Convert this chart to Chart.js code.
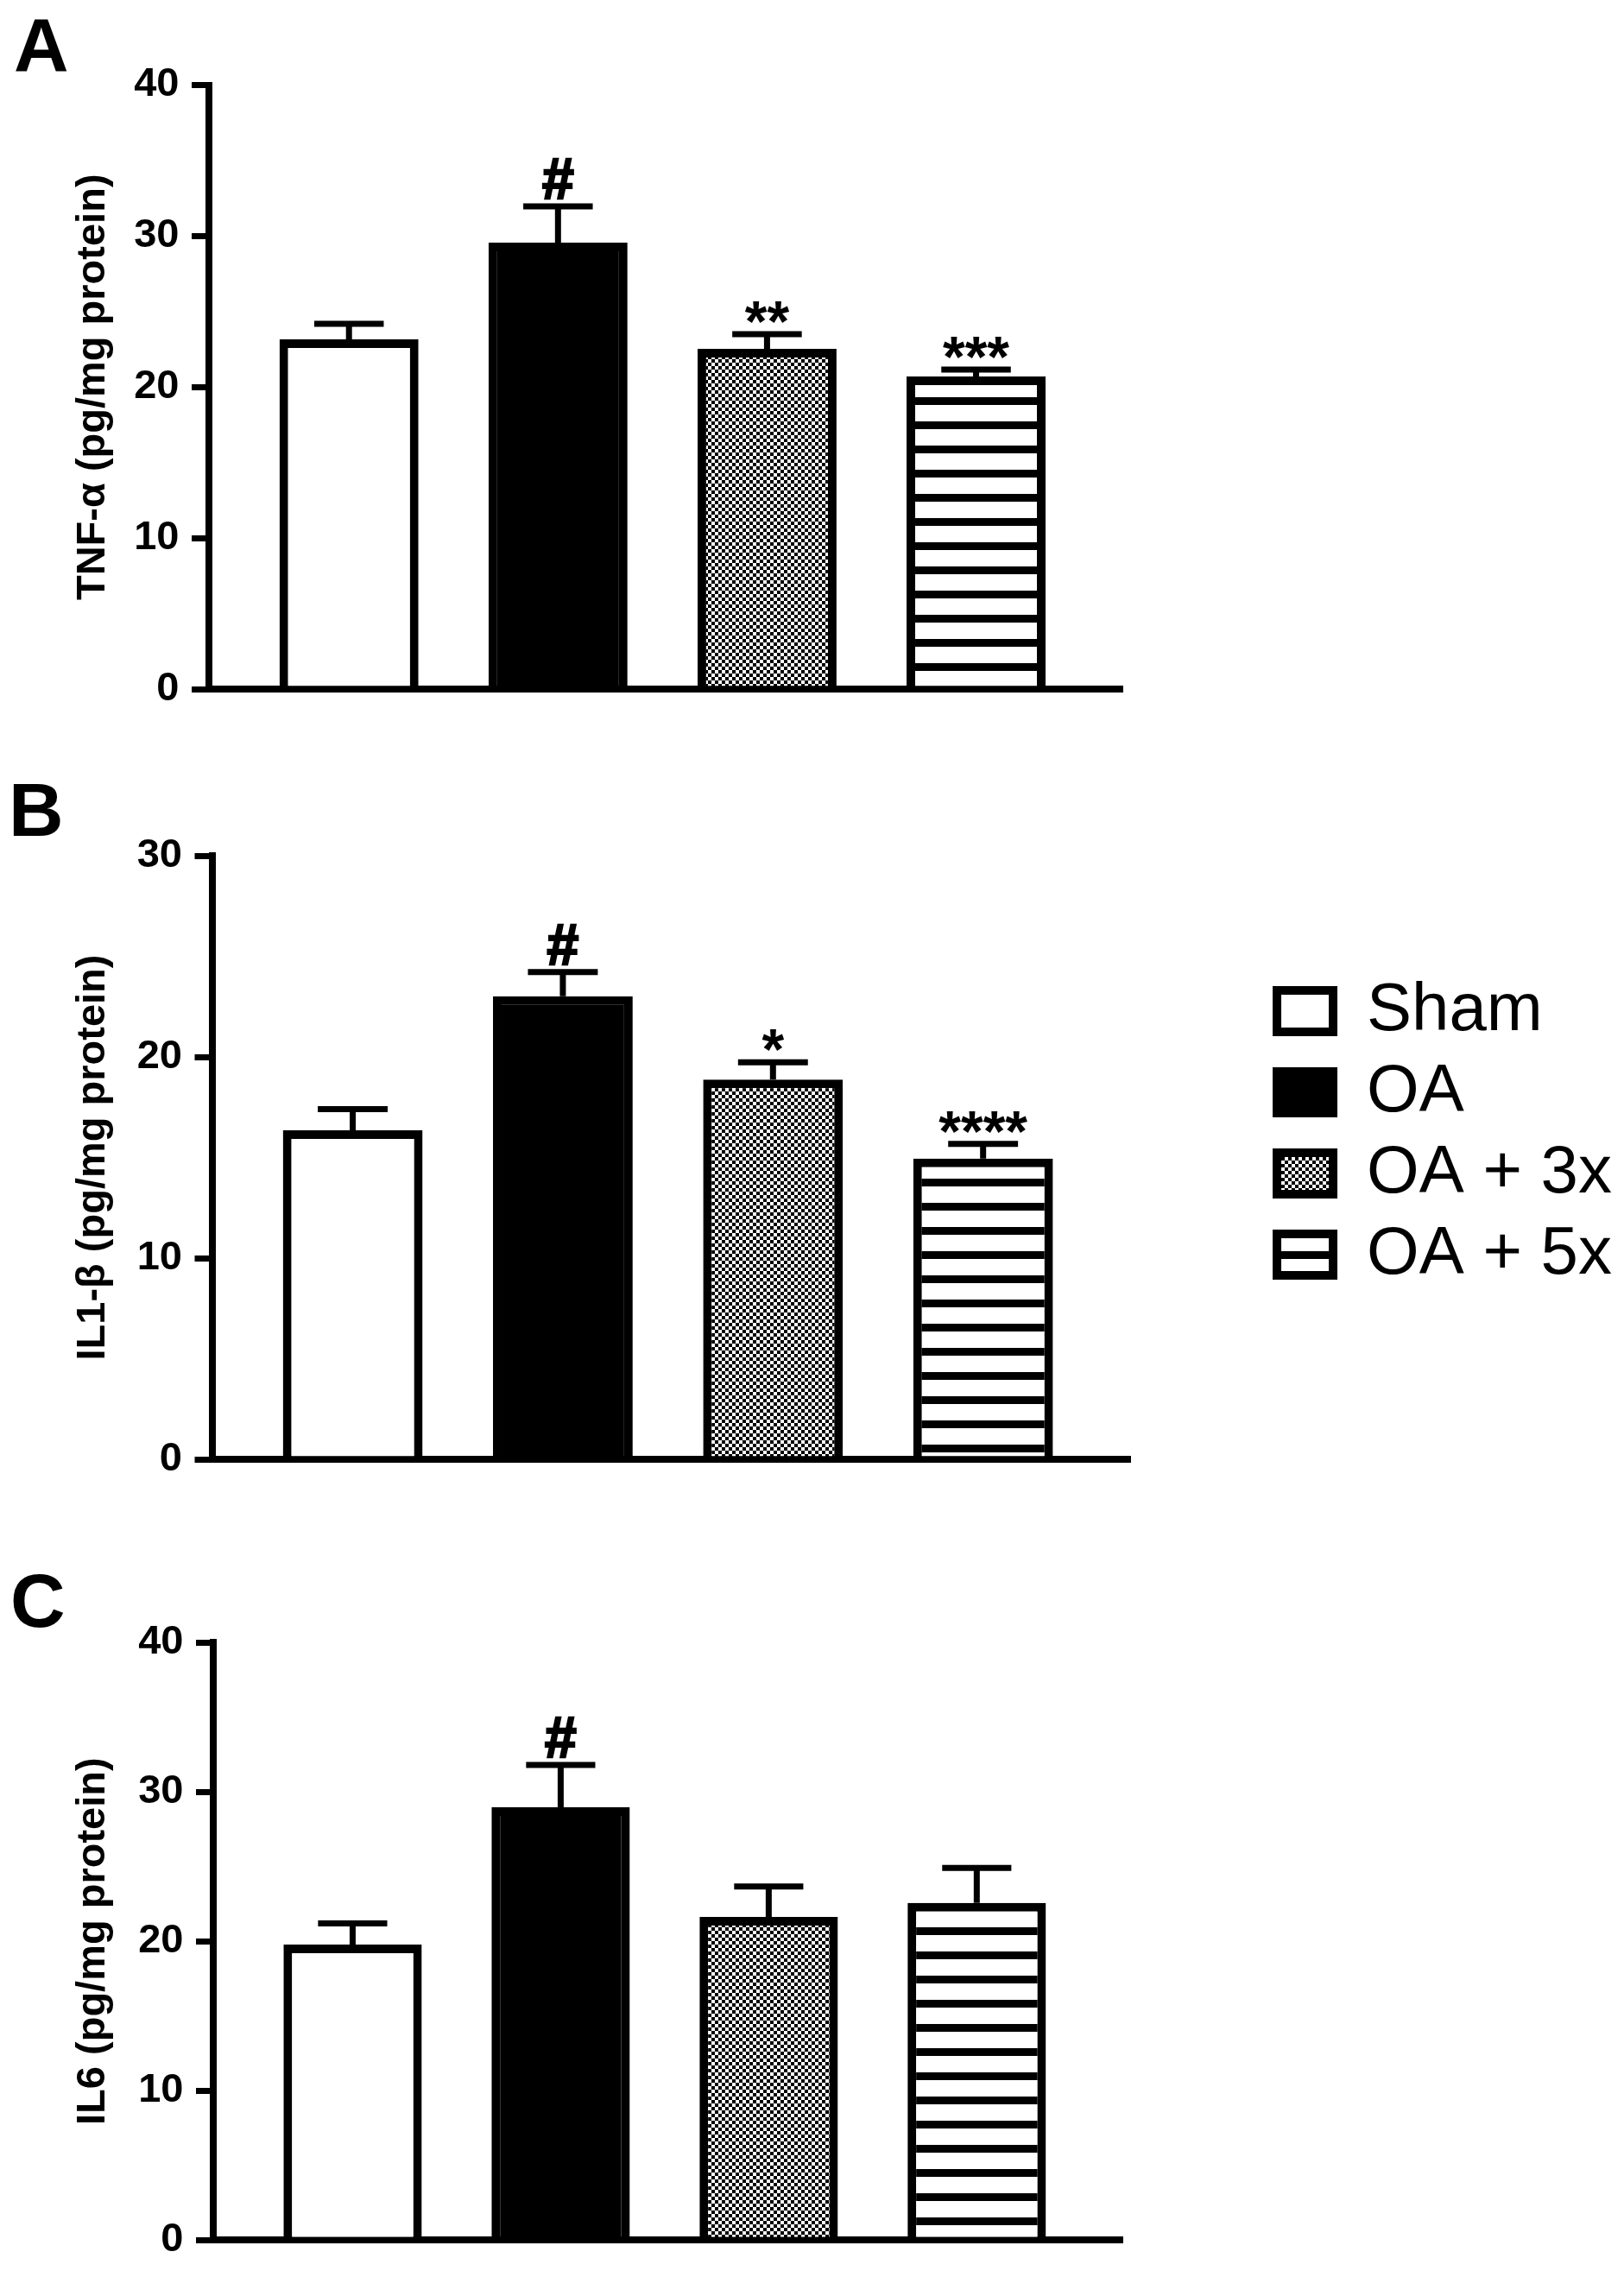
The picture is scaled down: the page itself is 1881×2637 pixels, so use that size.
<!DOCTYPE html>
<html><head><meta charset="utf-8">
<script src="https://cdn.jsdelivr.net/npm/chart.js@4.4.1/dist/chart.umd.min.js"></script>
<style>
html,body{margin:0;padding:0;background:#fff;width:1881px;height:2637px;overflow:hidden;}
canvas{position:absolute;left:0;}
</style></head><body>
<canvas id="cA" width="1881" height="880" style="top:0px"></canvas>
<canvas id="cB" width="1881" height="880" style="top:880px"></canvas>
<canvas id="cC" width="1881" height="877" style="top:1760px"></canvas>
<script>
// ---------- data ----------
const categories = ['Sham', 'OA', 'OA + 3x', 'OA + 5x'];
const categoryPositions = [0, 1, 2, 3];

const tnfMean  = [23.16, 29.56, 22.53, 20.70];
const tnfSem   = [1.03, 2.40, 0.97, 0.46];
const tnfMarks = ['', '#', '**', '***'];
const tnfTicks = [0, 10, 20, 30, 40];

const il1bMean  = [16.35, 23.01, 18.87, 14.95];
const il1bSem   = [1.05, 1.21, 0.86, 0.73];
const il1bMarks = ['', '#', '*', '****'];
const il1bTicks = [0, 10, 20, 30];

const il6Mean  = [19.78, 28.97, 21.63, 22.56];
const il6Sem   = [1.42, 2.83, 2.03, 2.34];
const il6Marks = ['', '#', '', ''];
const il6Ticks = [0, 10, 20, 30, 40];

// ---------- styling ----------
const FONT = "'Liberation Sans', Arial, Helvetica, sans-serif";
Chart.defaults.font.family = FONT;
Chart.defaults.color = '#000';

function checkerPattern() {
  const c = document.createElement('canvas');
  c.width = 8; c.height = 8;
  const g = c.getContext('2d');
  g.fillStyle = '#fff'; g.fillRect(0, 0, 8, 8);
  g.fillStyle = '#000'; g.fillRect(0, 0, 4, 4); g.fillRect(4, 4, 4, 4);
  return g.createPattern(c, 'repeat');
}
function stripePattern(phase) {
  const c = document.createElement('canvas');
  c.width = 8; c.height = 28;
  const g = c.getContext('2d');
  g.fillStyle = '#fff'; g.fillRect(0, 0, 8, 28);
  g.fillStyle = '#000'; g.fillRect(0, 0, 8, 9);
  const p = g.createPattern(c, 'repeat');
  p.setTransform(new DOMMatrix([1, 0, 0, 1, 0, phase]));
  return p;
}

const errorBarPlugin = {
  id: 'errorBars',
  afterDatasetsDraw(chart, args, opts) {
    const ctx = chart.ctx;
    const meta = chart.getDatasetMeta(0);
    const ys = chart.scales.y;
    ctx.save();
    meta.data.forEach((el, i) => {
      const top = opts.means[i] + opts.sems[i];
      const yErr = ys.getPixelForValue(top);
      const half = el.width / 4;
      ctx.strokeStyle = '#000';
      ctx.lineWidth = 7;
      ctx.lineCap = 'butt';
      ctx.beginPath();
      ctx.moveTo(el.x, el.y);
      ctx.lineTo(el.x, yErr - 3.5);
      ctx.moveTo(el.x - half, yErr);
      ctx.lineTo(el.x + half, yErr);
      ctx.stroke();
      const m = opts.marks[i];
      if (m) {
        ctx.fillStyle = '#000';
        ctx.textAlign = 'center';
        ctx.textBaseline = 'alphabetic';
        ctx.font = 'bold 66px ' + FONT;
        const isHash = m.indexOf('#') >= 0;
        const by = isHash ? yErr - 9 : yErr + 8;
        ctx.fillText(m, el.x, by);
        if (isHash) {
          ctx.lineWidth = 2.5;
          ctx.strokeText(m, el.x, by);
        }
      }
    });
    ctx.restore();
  }
};

const letterPlugin = {
  id: 'panelLetter',
  afterDraw(chart, args, opts) {
    const ctx = chart.ctx;
    ctx.save();
    ctx.fillStyle = '#000';
    ctx.font = 'bold 88px ' + FONT;
    ctx.textAlign = 'left';
    ctx.textBaseline = 'alphabetic';
    ctx.fillText(opts.text, opts.x, opts.y);
    ctx.restore();
  }
};

function makePanel(id, cfg) {
  const fills = ['#ffffff', '#000000', checkerPattern(), stripePattern(cfg.phase)];
  const scales = {
    x: {
      type: 'linear', position: 'bottom', min: -0.67, max: 3.7, offset: false,
      afterBuildTicks: s => { s.ticks = categoryPositions.map(v => ({ value: v })); },
      grid: { display: false, drawTicks: false },
      ticks: { display: false },
      border: { display: true, color: '#000', width: 8 },
      afterFit: s => { s.height = 0; }
    },
    y: {
      type: 'linear', position: 'left', min: 0, max: cfg.ticks[cfg.ticks.length - 1],
      afterBuildTicks: s => { s.ticks = cfg.ticks.map(v => ({ value: v })); },
      ticks: { color: '#000', font: { family: FONT, size: 47, weight: 'bold' }, padding: 14.5, callback: v => String(v) },
      grid: { display: true, drawOnChartArea: false, drawTicks: true, tickLength: 20, lineWidth: 7, color: '#000' },
      border: { display: true, color: '#000', width: 8 },
      title: { display: true, text: cfg.title, color: '#000', font: { family: FONT, size: 47, weight: 'bold' }, padding: { top: 80, bottom: 0 } },
      afterFit: s => { s.width = cfg.yWidth; }
    }
  };
  if (cfg.legend) {
    scales.y2 = {
      type: 'linear', position: 'right', display: true,
      grid: { display: false, drawTicks: false }, ticks: { display: false },
      border: { display: false },
      afterFit: s => { s.width = cfg.gap; }
    };
  }
  return new Chart(document.getElementById(id), {
    type: 'bar',
    data: {
      datasets: [{
        data: categories.map((c, i) => ({ x: categoryPositions[i], y: cfg.means[i] })),
        backgroundColor: fills,
        borderColor: '#000',
        borderWidth: 10,
        borderSkipped: 'start',
        barPercentage: 0.665,
        categoryPercentage: 1
      }]
    },
    options: {
      responsive: false,
      animation: false,
      devicePixelRatio: 1,
      events: [],
      layout: { padding: cfg.padding },
      plugins: {
        tooltip: { enabled: false },
        legend: cfg.legend ? {
          display: true, position: 'right', align: 'start', maxWidth: 600,
          title: { display: true, text: '', font: { size: 10 }, padding: { top: 0, bottom: 113 } },
          labels: {
            boxWidth: 65, boxHeight: 48, padding: 16, color: '#000',
            font: { family: FONT, size: 78 },
            generateLabels: () => categories.map((c, i) => ({
              text: c, fillStyle: fills[i], strokeStyle: '#000', lineWidth: 10,
              hidden: false, index: i, datasetIndex: 0
            }))
          },
          onClick: () => {}
        } : { display: false },
        errorBars: { means: cfg.means, sems: cfg.sems, marks: cfg.marks },
        panelLetter: cfg.letter
      },
      scales
    },
    plugins: [errorBarPlugin, letterPlugin]
  });
}

makePanel('cA', {
  means: tnfMean, sems: tnfSem, marks: tnfMarks, ticks: tnfTicks,
  title: 'TNF-\u03b1 (pg/mg protein)', phase: 12, yWidth: 242,
  padding: { top: 98.5, bottom: 82, left: 0, right: 581 },
  letter: { text: 'A', x: 16, y: 82 }
});
makePanel('cB', {
  means: il1bMean, sems: il1bSem, marks: il1bMarks, ticks: il1bTicks,
  title: 'IL1-\u03b2 (pg/mg protein)', phase: 9, yWidth: 245.5,
  padding: { top: 111, bottom: 70, left: 0, right: 4 },
  legend: true, gap: 154,
  letter: { text: 'B', x: 10, y: 88 }
});
makePanel('cC', {
  means: il6Mean, sems: il6Sem, marks: il6Marks, ticks: il6Ticks,
  title: 'IL6 (pg/mg protein)', phase: 24, yWidth: 247,
  padding: { top: 142, bottom: 33, left: 0, right: 581 },
  letter: { text: 'C', x: 12, y: 124 }
});
</script>
</body></html>
